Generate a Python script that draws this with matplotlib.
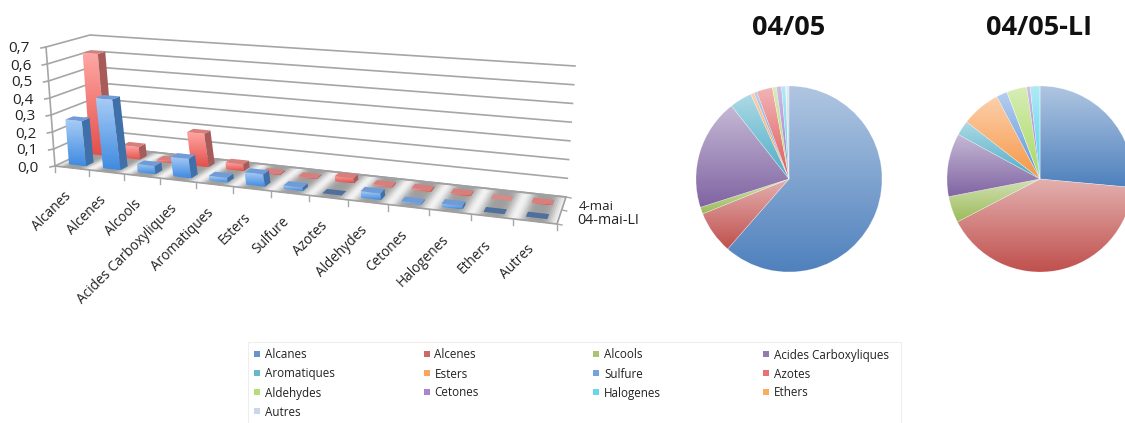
import matplotlib
matplotlib.use("Agg")
import matplotlib.pyplot as plt
import numpy as np
from matplotlib.collections import PolyCollection
from matplotlib.colors import to_rgb
from matplotlib.patches import Polygon, Rectangle

plt.rcParams['font.family'] = ['Open Sans', 'DejaVu Sans']

familles = ["Alcanes", "Alcenes", "Alcools", "Acides Carboxyliques", "Aromatiques", "Esters",
            "Sulfure", "Azotes", "Aldehydes", "Cetones", "Halogenes", "Ethers", "Autres"]
mai4 = [0.62, 0.075, 0.012, 0.195, 0.039, 0.006, 0.005, 0.028, 0.007, 0.009, 0.007, 0.001, 0.005]
mai4_li = [0.265, 0.41, 0.046, 0.11, 0.026, 0.068, 0.019, 0.0, 0.035, 0.006, 0.017, 0.0, 0.0]
graduations = [0.0, 0.1, 0.2, 0.3, 0.4, 0.5, 0.6, 0.7]
couleurs = ["#4f81bd", "#c0504d", "#9bbb59", "#8064a2", "#4bacc6", "#f79646", "#5b93dc",
            "#e05a5a", "#a8d860", "#9a6fc8", "#4fd0e8", "#f5a040", "#c0cfe8"]

W, H = 1125, 423
# coins du sol et du plafond du graphique 3D, en pixels (avant-g, avant-d, arriere-d, arriere-g)
SOL = [(55, 166), (557, 224), (566, 197), (97, 146)]
HAUT = [(46, 47), (567, 85), (575, 66), (90, 35)]


def homographie(coins):
    src = [(0, 0), (1, 0), (1, 1), (0, 1)]
    A, b = [], []
    for (x, y), (X, Y) in zip(src, coins):
        A.append([x, y, 1, 0, 0, 0, -x * X, -y * X])
        A.append([0, 0, 0, x, y, 1, -x * Y, -y * Y])
        b += [X, Y]
    return np.append(np.linalg.solve(np.array(A, float), np.array(b, float)), 1).reshape(3, 3)


M0 = homographie(SOL)
M7 = homographie(HAUT)


def proj(u, v, z=0.0):
    # u : categorie (0..13), v : profondeur (0..2), z : valeur
    p = np.array([u / 13, v / 2, 1.0])
    a = M0 @ p
    b = M7 @ p
    t = z / 0.7
    return (1 - t) * a[:2] / a[2] + t * b[:2] / b[2]


def eclaircir(c, t):
    c = np.array(to_rgb(c))
    return c + (1 - c) * t


def degrade(ax, poly, haut, bas):
    # remplit un polygone avec un degrade vertical
    poly = np.array(poly)
    g = np.linspace(0, 1, 64)[:, None, None]
    img = (1 - g) * np.array(to_rgb(haut)) + g * np.array(to_rgb(bas))
    ext = [poly[:, 0].min(), poly[:, 0].max(), poly[:, 1].max(), poly[:, 1].min()]
    im = ax.imshow(img, extent=ext, aspect='auto', origin='upper', zorder=3)
    patch = Polygon(poly, closed=True, transform=ax.transData, fc='none', ec='none')
    ax.add_patch(patch)
    im.set_clip_path(patch)


def barre(ax, c, v0, val, style):
    u0, u1 = c + 0.25, c + 0.75
    v1 = v0 + 0.36
    if val < 0.002:
        ax.add_patch(Polygon([proj(u0, v0), proj(u1, v0), proj(u1, v1), proj(u0, v1)],
                             fc=style['plat'], ec='none', zorder=3))
        return
    face = [proj(u0, v0, val), proj(u1, v0, val), proj(u1, v0), proj(u0, v0)]
    degrade(ax, face, style['haut'], style['bas'])
    ax.add_patch(Polygon([proj(u1, v0, val), proj(u1, v1, val), proj(u1, v1), proj(u1, v0)],
                         fc=style['cote'], ec='none', zorder=3))
    ax.add_patch(Polygon([proj(u0, v0, val), proj(u1, v0, val), proj(u1, v1, val), proj(u0, v1, val)],
                         fc=style['dessus'], ec='none', zorder=3))


fig = plt.figure(figsize=(W / 100, H / 100), dpi=100)
ax = fig.add_axes([0, 0, 1, 1])
ax.set_xlim(0, W)
ax.set_ylim(H, 0)
ax.set_autoscale_on(False)
ax.axis('off')

# sol avec ses bandes claires
us = np.linspace(0, 13, 300)
bandes = [[proj(a, 0), proj(b, 0), proj(b, 2), proj(a, 2)] for a, b in zip(us[:-1], us[1:])]
gris = 0.62 + 0.33 * np.cos(np.pi * us[:-1]) ** 4
sol = PolyCollection(bandes, facecolors=[(g, g, g) for g in gris], edgecolors='face',
                     linewidths=0.5, zorder=1)
ax.add_collection(sol)

# parois et graduations
for z in graduations:
    a, b, c = proj(0, 0, z), proj(0, 2, z), proj(13, 2, z)
    ax.plot([a[0], b[0], c[0]], [a[1], b[1], c[1]], color='#a6a6a6', lw=1.2, zorder=2)
    ax.plot([a[0] - 5, a[0]], [a[1] + 1, a[1]], color='#a6a6a6', lw=1.2, zorder=2)
    ax.text(a[0] - 16, a[1] + 2, f"{z:.1f}".replace(".", ","), ha='right', va='center',
            fontsize=11, color='#222222')
a, b = proj(0, 0, 0), proj(0, 0, 0.7)
ax.plot([a[0], b[0]], [a[1], b[1]], color='#a6a6a6', lw=1.2, zorder=2)
for pts in ([proj(0, 0), proj(13, 0), proj(13, 2)], [proj(0, 2), proj(13, 2)]):
    pts = np.array(pts)
    ax.plot(pts[:, 0], pts[:, 1], color='#a0a0a0', lw=1.2, zorder=2)

# graduations de l'axe des categories
for i in range(len(familles) + 1):
    p = proj(i, 0)
    ax.plot([p[0], p[0]], [p[1], p[1] + 6], color='#a6a6a6', lw=1.0, zorder=2)
for v in [0, 1, 2]:
    p = proj(13, v)
    ax.plot([p[0], p[0] + 5], [p[1], p[1] + 1], color='#a6a6a6', lw=1.0, zorder=2)

for i, nom in enumerate(familles):
    p = proj(i + 0.5, 0)
    ax.text(p[0] - 3, p[1] + 26, nom, rotation=45, rotation_mode='anchor', ha='right', va='center',
            fontsize=9.8, color='#222222')
ax.text(579, 206, "4-mai", ha='left', va='center', fontsize=9.5, color='#222222')
ax.text(577, 220, "04-mai-LI", ha='left', va='center', fontsize=10.3, color='#222222')

rouge = dict(haut='#ffa8a4', bas='#e4504b', cote='#a85c5a', dessus='#d87e7c', plat='#d98a88')
bleu = dict(haut='#a8ccf6', bas='#3f8be0', cote='#3f70aa', dessus='#6f9cd8', plat='#4f6f9c')
for i, val in enumerate(mai4):
    barre(ax, i, 1.25, val, rouge)
for i, val in enumerate(mai4_li):
    barre(ax, i, 0.25, val, bleu)

# camemberts, chaque part a son propre degrade
def camembert(cx, cy, r, parts):
    a = fig.add_axes([(cx - r) / W, 1 - (cy + r) / H, 2 * r / W, 2 * r / H])
    wedges, _ = a.pie(parts, colors=couleurs, startangle=90, counterclock=False, radius=1)
    a.set_autoscale_on(False)
    for w, c in zip(wedges, couleurs):
        bb = w.get_path().transformed(w.get_patch_transform()).get_extents()
        g = np.linspace(0, 1, 128)[:, None, None]
        img = (1 - g) * eclaircir(c, 0.55) + g * np.array(to_rgb(c))
        im = a.imshow(img, extent=[bb.x0, bb.x1, bb.y0, bb.y1], aspect='auto', origin='upper', zorder=2)
        im.set_clip_path(w)
        w.set_facecolor('none')
        w.set_edgecolor((1, 1, 1, 0.35))
        w.set_linewidth(0.4)
        w.set_zorder(3)
    a.set_xlim(-1, 1)
    a.set_ylim(-1, 1)
    a.axis('off')


camembert(789, 179, 93, mai4)
camembert(1040, 179, 93, mai4_li)
ax.text(789, 28, "04/05", ha='center', va='center', fontsize=19.5, fontweight='bold', color='#111111')
ax.text(1039, 28, "04/05-LI", ha='center', va='center', fontsize=19.5, fontweight='bold', color='#111111')

# legende sur quatre colonnes
ax.add_patch(Rectangle((247.5, 342.5), 653, 90, fc='none', ec='#eeeeee', lw=0.8))
for i, (nom, c) in enumerate(zip(familles, couleurs)):
    x = 254 + 169.5 * (i % 4)
    y = 355 + 19 * (i // 4)
    ax.add_patch(Rectangle((x, y - 3.5), 6, 6, fc=eclaircir(c, 0.15), ec='none'))
    ax.text(x + 11, y, nom, ha='left', va='center', fontsize=8.4, color='#222222')

fig.savefig("out.png", dpi=100)
